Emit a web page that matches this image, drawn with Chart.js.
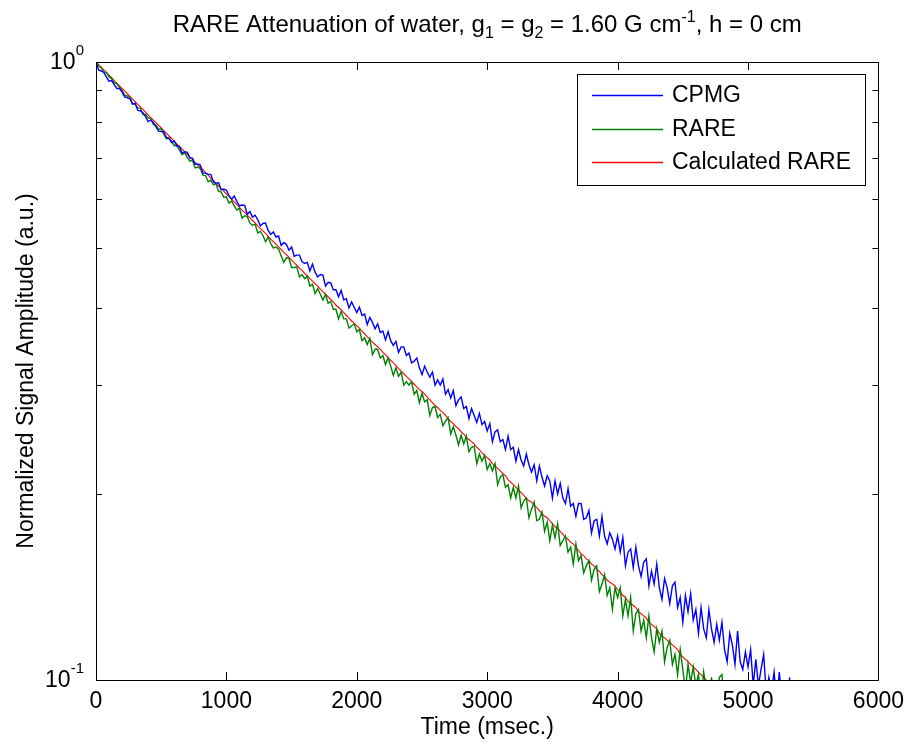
<!DOCTYPE html>
<html>
<head>
<meta charset="utf-8">
<title>RARE Attenuation of water</title>
<script src="https://cdn.jsdelivr.net/npm/chart.js@4.4.1/dist/chart.umd.min.js"></script>
<style>
  html, body { margin: 0; padding: 0; background: #fff; }
  canvas { display: block; }
</style>
</head>
<body>
<canvas id="rareChart" width="912" height="742"></canvas>
<script>
// Echo times (msec.)
const times = [
  0, 20, 40, 60, 80, 100, 120, 140, 160, 180,
  200, 220, 240, 260, 280, 300, 320, 340, 360, 380,
  400, 420, 440, 460, 480, 500, 520, 540, 560, 580,
  600, 620, 640, 660, 680, 700, 720, 740, 760, 780,
  800, 820, 840, 860, 880, 900, 920, 940, 960, 980,
  1000, 1020, 1040, 1060, 1080, 1100, 1120, 1140, 1160, 1180,
  1200, 1220, 1240, 1260, 1280, 1300, 1320, 1340, 1360, 1380,
  1400, 1420, 1440, 1460, 1480, 1500, 1520, 1540, 1560, 1580,
  1600, 1620, 1640, 1660, 1680, 1700, 1720, 1740, 1760, 1780,
  1800, 1820, 1840, 1860, 1880, 1900, 1920, 1940, 1960, 1980,
  2000, 2020, 2040, 2060, 2080, 2100, 2120, 2140, 2160, 2180,
  2200, 2220, 2240, 2260, 2280, 2300, 2320, 2340, 2360, 2380,
  2400, 2420, 2440, 2460, 2480, 2500, 2520, 2540, 2560, 2580,
  2600, 2620, 2640, 2660, 2680, 2700, 2720, 2740, 2760, 2780,
  2800, 2820, 2840, 2860, 2880, 2900, 2920, 2940, 2960, 2980,
  3000, 3020, 3040, 3060, 3080, 3100, 3120, 3140, 3160, 3180,
  3200, 3220, 3240, 3260, 3280, 3300, 3320, 3340, 3360, 3380,
  3400, 3420, 3440, 3460, 3480, 3500, 3520, 3540, 3560, 3580,
  3600, 3620, 3640, 3660, 3680, 3700, 3720, 3740, 3760, 3780,
  3800, 3820, 3840, 3860, 3880, 3900, 3920, 3940, 3960, 3980,
  4000, 4020, 4040, 4060, 4080, 4100, 4120, 4140, 4160, 4180,
  4200, 4220, 4240, 4260, 4280, 4300, 4320, 4340, 4360, 4380,
  4400, 4420, 4440, 4460, 4480, 4500, 4520, 4540, 4560, 4580,
  4600, 4620, 4640, 4660, 4680, 4700, 4720, 4740, 4760, 4780,
  4800, 4820, 4840, 4860, 4880, 4900, 4920, 4940, 4960, 4980,
  5000, 5020, 5040, 5060, 5080, 5100, 5120, 5140, 5160, 5180,
  5200, 5220, 5240, 5260, 5280, 5300, 5320
];

// CPMG, normalized amplitude
const cpmgValues = [
  1.000, 0.971, 0.967, 0.962, 0.945, 0.931, 0.933, 0.919, 0.906, 0.906,
  0.894, 0.878, 0.875, 0.872, 0.855, 0.858, 0.835, 0.834, 0.828, 0.816,
  0.801, 0.805, 0.799, 0.785, 0.773, 0.772, 0.771, 0.755, 0.752, 0.741,
  0.745, 0.731, 0.730, 0.712, 0.716, 0.714, 0.699, 0.699, 0.683, 0.684,
  0.681, 0.661, 0.661, 0.658, 0.658, 0.640, 0.636, 0.638, 0.621, 0.623,
  0.620, 0.608, 0.600, 0.607, 0.595, 0.585, 0.587, 0.586, 0.567, 0.573,
  0.561, 0.565, 0.556, 0.543, 0.548, 0.549, 0.534, 0.526, 0.531, 0.521,
  0.523, 0.505, 0.510, 0.507, 0.496, 0.502, 0.485, 0.487, 0.487, 0.475,
  0.472, 0.474, 0.459, 0.471, 0.457, 0.449, 0.453, 0.452, 0.434, 0.440,
  0.439, 0.428, 0.428, 0.417, 0.427, 0.412, 0.414, 0.400, 0.409, 0.401,
  0.393, 0.401, 0.389, 0.391, 0.376, 0.386, 0.379, 0.370, 0.377, 0.365,
  0.367, 0.355, 0.366, 0.354, 0.348, 0.353, 0.339, 0.346, 0.346, 0.335,
  0.338, 0.326, 0.328, 0.332, 0.320, 0.312, 0.322, 0.315, 0.309, 0.315,
  0.300, 0.306, 0.300, 0.307, 0.290, 0.295, 0.286, 0.294, 0.278, 0.284,
  0.287, 0.275, 0.277, 0.265, 0.275, 0.268, 0.261, 0.270, 0.259, 0.262,
  0.253, 0.260, 0.243, 0.252, 0.254, 0.243, 0.245, 0.236, 0.248, 0.236,
  0.238, 0.226, 0.236, 0.227, 0.222, 0.232, 0.223, 0.217, 0.223, 0.210,
  0.222, 0.213, 0.206, 0.214, 0.210, 0.197, 0.210, 0.200, 0.208, 0.197,
  0.193, 0.204, 0.191, 0.193, 0.184, 0.193, 0.193, 0.182, 0.183, 0.188,
  0.173, 0.181, 0.182, 0.171, 0.184, 0.171, 0.166, 0.173, 0.169, 0.163,
  0.171, 0.161, 0.170, 0.153, 0.161, 0.163, 0.152, 0.164, 0.153, 0.147,
  0.155, 0.157, 0.142, 0.150, 0.143, 0.154, 0.141, 0.135, 0.146, 0.141,
  0.133, 0.142, 0.144, 0.131, 0.136, 0.124, 0.137, 0.129, 0.138, 0.125,
  0.130, 0.119, 0.131, 0.121, 0.117, 0.130, 0.121, 0.115, 0.123, 0.116,
  0.124, 0.112, 0.107, 0.119, 0.114, 0.106, 0.120, 0.107, 0.104, 0.111,
  0.105, 0.112, 0.098, 0.108, 0.098, 0.104, 0.110, 0.095, 0.101, 0.096,
  0.103, 0.092, 0.103, 0.092, 0.097, 0.091, 0.101
];

// RARE, normalized amplitude
const rareValues = [
  1.000, 0.986, 0.979, 0.963, 0.962, 0.946, 0.940, 0.924, 0.923, 0.910,
  0.900, 0.884, 0.881, 0.877, 0.856, 0.854, 0.843, 0.842, 0.822, 0.823,
  0.812, 0.810, 0.792, 0.791, 0.778, 0.780, 0.764, 0.751, 0.754, 0.744,
  0.732, 0.733, 0.721, 0.708, 0.713, 0.701, 0.691, 0.693, 0.674, 0.676,
  0.672, 0.656, 0.655, 0.640, 0.644, 0.633, 0.635, 0.618, 0.616, 0.604,
  0.605, 0.591, 0.596, 0.585, 0.576, 0.580, 0.559, 0.564, 0.562, 0.549,
  0.544, 0.547, 0.529, 0.532, 0.524, 0.512, 0.521, 0.509, 0.500, 0.502,
  0.498, 0.486, 0.474, 0.482, 0.481, 0.465, 0.465, 0.466, 0.449, 0.453,
  0.446, 0.450, 0.434, 0.437, 0.422, 0.430, 0.421, 0.412, 0.421, 0.407,
  0.410, 0.398, 0.398, 0.384, 0.395, 0.384, 0.384, 0.371, 0.374, 0.377,
  0.366, 0.369, 0.354, 0.358, 0.349, 0.357, 0.336, 0.343, 0.343, 0.332,
  0.335, 0.324, 0.332, 0.322, 0.311, 0.320, 0.310, 0.315, 0.300, 0.304,
  0.300, 0.304, 0.290, 0.294, 0.281, 0.291, 0.282, 0.284, 0.268, 0.276,
  0.277, 0.266, 0.269, 0.258, 0.262, 0.266, 0.250, 0.257, 0.249, 0.240,
  0.249, 0.241, 0.248, 0.234, 0.238, 0.239, 0.224, 0.232, 0.226, 0.231,
  0.219, 0.224, 0.218, 0.224, 0.207, 0.213, 0.215, 0.205, 0.207, 0.197,
  0.205, 0.197, 0.206, 0.190, 0.195, 0.197, 0.183, 0.189, 0.194, 0.181,
  0.182, 0.187, 0.174, 0.180, 0.168, 0.178, 0.170, 0.179, 0.165, 0.168,
  0.171, 0.161, 0.164, 0.154, 0.166, 0.156, 0.159, 0.149, 0.153, 0.156,
  0.145, 0.151, 0.153, 0.139, 0.143, 0.148, 0.137, 0.141, 0.130, 0.141,
  0.136, 0.141, 0.127, 0.135, 0.127, 0.136, 0.120, 0.128, 0.130, 0.120,
  0.125, 0.117, 0.127, 0.117, 0.111, 0.121, 0.115, 0.120, 0.107, 0.113,
  0.116, 0.106, 0.110, 0.102, 0.112, 0.104, 0.096, 0.106, 0.099, 0.105,
  0.098, 0.102, 0.093, 0.103, 0.096, 0.091, 0.101, 0.090, 0.091, 0.101,
  0.102, 0.092
];

// Calculated RARE, normalized amplitude
const calcRareValues = [
  1.000, 0.990, 0.981, 0.971, 0.961, 0.952, 0.943, 0.933, 0.924, 0.915,
  0.906, 0.898, 0.889, 0.880, 0.871, 0.863, 0.854, 0.846, 0.838, 0.830,
  0.821, 0.813, 0.805, 0.798, 0.790, 0.782, 0.774, 0.767, 0.759, 0.752,
  0.744, 0.737, 0.730, 0.723, 0.716, 0.709, 0.702, 0.695, 0.688, 0.682,
  0.675, 0.669, 0.662, 0.656, 0.649, 0.643, 0.636, 0.630, 0.624, 0.618,
  0.611, 0.606, 0.600, 0.594, 0.588, 0.582, 0.576, 0.571, 0.565, 0.560,
  0.554, 0.549, 0.543, 0.538, 0.533, 0.528, 0.522, 0.517, 0.512, 0.507,
  0.502, 0.497, 0.492, 0.488, 0.483, 0.478, 0.473, 0.469, 0.464, 0.460,
  0.455, 0.451, 0.446, 0.442, 0.438, 0.434, 0.429, 0.425, 0.421, 0.417,
  0.413, 0.409, 0.404, 0.401, 0.397, 0.393, 0.389, 0.385, 0.381, 0.378,
  0.374, 0.371, 0.367, 0.363, 0.359, 0.356, 0.352, 0.349, 0.346, 0.343,
  0.339, 0.336, 0.332, 0.329, 0.326, 0.323, 0.319, 0.316, 0.313, 0.310,
  0.307, 0.304, 0.301, 0.298, 0.295, 0.293, 0.290, 0.287, 0.284, 0.281,
  0.278, 0.276, 0.273, 0.271, 0.268, 0.265, 0.262, 0.260, 0.257, 0.255,
  0.252, 0.250, 0.247, 0.245, 0.243, 0.241, 0.238, 0.236, 0.233, 0.231,
  0.229, 0.227, 0.224, 0.222, 0.220, 0.218, 0.216, 0.214, 0.211, 0.209,
  0.207, 0.205, 0.203, 0.201, 0.199, 0.197, 0.195, 0.194, 0.192, 0.190,
  0.188, 0.186, 0.184, 0.183, 0.181, 0.179, 0.177, 0.176, 0.174, 0.172,
  0.170, 0.169, 0.167, 0.166, 0.164, 0.162, 0.160, 0.159, 0.157, 0.156,
  0.154, 0.153, 0.151, 0.150, 0.148, 0.147, 0.145, 0.144, 0.143, 0.142,
  0.140, 0.139, 0.137, 0.136, 0.134, 0.133, 0.132, 0.131, 0.129, 0.128,
  0.127, 0.126, 0.124, 0.123, 0.122, 0.121, 0.119, 0.118, 0.117, 0.116,
  0.115, 0.114, 0.113, 0.112, 0.110, 0.109, 0.108, 0.107, 0.106, 0.105,
  0.104, 0.103, 0.102, 0.101, 0.100
];

const seriesNames = ["CPMG", "RARE", "Calculated RARE"];
const seriesColors = ["#0000ff", "#008000", "#ff0000"];
const seriesWidths = [1.4, 1.4, 1.1];

const xTickValues = [0, 1000, 2000, 3000, 4000, 5000, 6000];
const yMinorTicks = [0.2, 0.3, 0.4, 0.5, 0.6, 0.7, 0.8, 0.9];
const yLabelTicks = [
  { value: 1, base: "10", exp: "0" },
  { value: 0.1, base: "10", exp: "-1" }
];

const FONT = "'Liberation Sans', Arial, Helvetica, sans-serif";
const FONT_SIZE = 23;
const TITLE_SIZE = 24;
const SCRIPT_SIZE = 15;

function toPoints(values) {
  return values.map((v, i) => ({ x: times[i], y: v }));
}

// Draw text made of pieces with different sizes and vertical offsets
function drawRichText(ctx, parts, x, y, align) {
  let total = 0;
  parts.forEach((p) => {
    ctx.font = `${p.size}px ${FONT}`;
    total += ctx.measureText(p.text).width;
  });
  let cx = x;
  if (align === "center") cx = x - total / 2;
  if (align === "right") cx = x - total;
  ctx.textAlign = "left";
  ctx.textBaseline = "alphabetic";
  parts.forEach((p) => {
    ctx.font = `${p.size}px ${FONT}`;
    ctx.fillText(p.text, cx, y + (p.dy || 0));
    cx += ctx.measureText(p.text).width;
  });
}

// Frame, inward ticks, labels, title and legend in MATLAB style
const matlabDecor = {
  id: "matlabDecor",
  afterDraw(chart) {
    const { ctx, chartArea } = chart;
    const xs = chart.scales.x;
    const ys = chart.scales.y;
    const left = chartArea.left;
    const right = chartArea.right;
    const top = chartArea.top;
    const bottom = chartArea.bottom;

    ctx.save();
    ctx.strokeStyle = "#000";
    ctx.fillStyle = "#000";
    ctx.lineWidth = 1;

    // inward ticks
    ctx.beginPath();
    xTickValues.forEach((v) => {
      const px = Math.round(xs.getPixelForValue(v)) + 0.5;
      ctx.moveTo(px, bottom);
      ctx.lineTo(px, bottom - 8);
      ctx.moveTo(px, top);
      ctx.lineTo(px, top + 8);
    });
    yMinorTicks.forEach((v) => {
      const py = Math.round(ys.getPixelForValue(v)) + 0.5;
      ctx.moveTo(left, py);
      ctx.lineTo(left + 6, py);
      ctx.moveTo(right, py);
      ctx.lineTo(right - 6, py);
    });
    ctx.stroke();

    // box
    ctx.strokeRect(Math.round(left) + 0.5, Math.round(top) + 0.5,
      Math.round(right - left), Math.round(bottom - top));

    // y tick labels 10^0, 10^-1
    yLabelTicks.forEach((t) => {
      const py = ys.getPixelForValue(t.value);
      drawRichText(ctx, [
        { text: t.base, size: FONT_SIZE },
        { text: t.exp, size: SCRIPT_SIZE, dy: -14 }
      ], left - 12, py + 7, "right");
    });

    // title
    drawRichText(ctx, [
      { text: "RARE Attenuation of water, g", size: TITLE_SIZE },
      { text: "1", size: 16, dy: 6 },
      { text: " = g", size: TITLE_SIZE },
      { text: "2", size: 16, dy: 6 },
      { text: " = 1.60 G cm", size: TITLE_SIZE },
      { text: "-1", size: 16, dy: -10 },
      { text: ", h = 0 cm", size: TITLE_SIZE }
    ], (left + right) / 2, 32, "center");

    // axis titles
    ctx.font = `${FONT_SIZE}px ${FONT}`;
    ctx.textAlign = "center";
    ctx.textBaseline = "middle";
    ctx.fillText("Time (msec.)", (left + right) / 2, 728);
    ctx.save();
    ctx.translate(33, (top + bottom) / 2);
    ctx.rotate(-Math.PI / 2);
    ctx.textBaseline = "alphabetic";
    ctx.fillText("Normalized Signal Amplitude (a.u.)", 0, 0);
    ctx.restore();

    // legend
    const lx = 577, ly = 74, lw = 288, lh = 111;
    ctx.fillStyle = "#fff";
    ctx.fillRect(lx, ly, lw, lh);
    ctx.strokeStyle = "#000";
    ctx.lineWidth = 1;
    ctx.strokeRect(lx + 0.5, ly + 0.5, lw, lh);
    ctx.font = `${FONT_SIZE}px ${FONT}`;
    ctx.textAlign = "left";
    ctx.textBaseline = "middle";
    seriesNames.forEach((name, i) => {
      const ey = Math.round(ly + 21 + i * 33.5);
      ctx.beginPath();
      ctx.lineWidth = 1.5;
      ctx.strokeStyle = seriesColors[i];
      ctx.moveTo(592, ey + 0.5);
      ctx.lineTo(663, ey + 0.5);
      ctx.stroke();
      ctx.fillStyle = "#000";
      ctx.fillText(name, 672, ey + 1);
    });

    ctx.restore();
  }
};

const ctx = document.getElementById("rareChart").getContext("2d");

const rareChart = new Chart(ctx, {
  type: "line",
  data: {
    datasets: [
      { label: seriesNames[0], data: toPoints(cpmgValues) },
      { label: seriesNames[1], data: toPoints(rareValues) },
      { label: seriesNames[2], data: toPoints(calcRareValues) }
    ].map((d, i) => ({
      ...d,
      borderColor: seriesColors[i],
      borderWidth: seriesWidths[i],
      pointRadius: 0,
      tension: 0,
      fill: false
    }))
  },
  options: {
    responsive: false,
    animation: false,
    layout: { padding: { top: 62, right: 29, left: 0, bottom: 0 } },
    plugins: {
      legend: { display: false },
      tooltip: { enabled: false },
      title: { display: false }
    },
    scales: {
      x: {
        type: "linear",
        min: 0,
        max: 6000,
        afterBuildTicks: (scale) => {
          scale.ticks = xTickValues.map((v) => ({ value: v }));
        },
        ticks: {
          color: "#000",
          padding: 8,
          maxRotation: 0,
          font: { family: FONT, size: FONT_SIZE },
          callback: (value) => String(value)
        },
        grid: { display: false, drawTicks: false },
        border: { display: false },
        afterFit: (scale) => { scale.height = 62; }
      },
      y: {
        type: "logarithmic",
        min: 0.1,
        max: 1,
        ticks: { display: false },
        grid: { display: false, drawTicks: false },
        border: { display: false },
        afterFit: (scale) => { scale.width = 96; }
      }
    }
  },
  plugins: [matlabDecor]
});
</script>
</body>
</html>
